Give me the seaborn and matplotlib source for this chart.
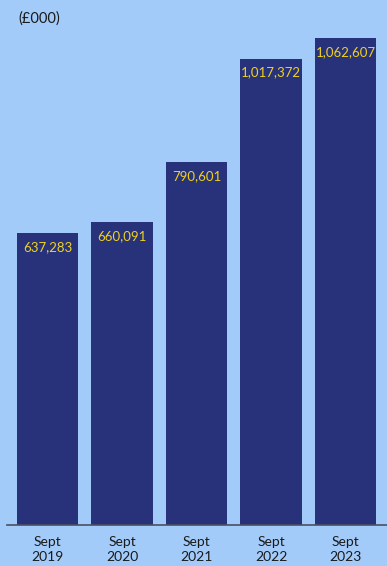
import matplotlib
matplotlib.use("Agg")
import matplotlib.pyplot as plt
import seaborn as sns
import pandas as pd

categories = ["Sept\n2019", "Sept\n2020", "Sept\n2021", "Sept\n2022", "Sept\n2023"]
values = [637283, 660091, 790601, 1017372, 1062607]
value_labels = ["637,283", "660,091", "790,601", "1,017,372", "1,062,607"]
unit_label = "(£000)"

bg = "#a3cbfa"
bar_color = "#27327a"
label_color = "#f0d21c"

sns.set_theme(style="white")
plt.rcParams["font.family"] = ["Lato", "DejaVu Sans"]

W, H = 387, 566
fig = plt.figure(figsize=(W / 100, H / 100), dpi=100, facecolor=bg)
ax = fig.add_axes([7 / W, (H - 525) / H, (W - 7) / W, 525 / H])
ax.set_facecolor(bg)

df = pd.DataFrame({"cat": categories, "val": values})
sns.barplot(data=df, x="cat", y="val", color=bar_color, saturation=1, width=0.82,
            linewidth=0, edgecolor="none", ax=ax)

ax.set_xlim(-0.544, 4.557)
ax.set_ylim(0, 1145000)

for i, (v, lab) in enumerate(zip(values, value_labels)):
    ax.text(i, v - 14 / 525 * 1145000, lab, ha="center", va="center",
            color=label_color, fontsize=9.5)

for s in ["left", "right", "top"]:
    ax.spines[s].set_visible(False)
ax.spines["bottom"].set_color("#4a5060")
ax.spines["bottom"].set_linewidth(1.2)
ax.set_yticks([])
ax.set_xlabel("")
ax.set_ylabel("")
ax.tick_params(axis="x", length=0, pad=8, labelsize=10, colors="#1a1a1a")
for t in ax.get_xticklabels():
    t.set_linespacing(1.25)

fig.text(18 / W, 1 - 19 / H, unit_label, ha="left", va="center", fontsize=10.5, color="#1a1a1a")

fig.savefig("out.png", dpi=100, facecolor=bg)
